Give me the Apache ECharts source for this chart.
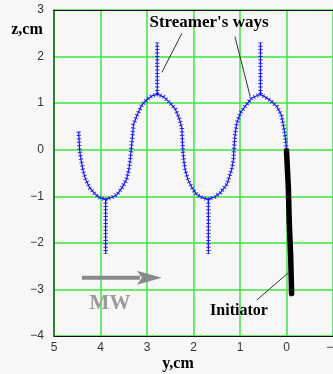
<!DOCTYPE html>
<html>
<head>
<meta charset="utf-8">
<script src="https://cdn.jsdelivr.net/npm/echarts@6/dist/echarts.min.js"></script>
<style>
  html, body { margin: 0; padding: 0; background: #f7f7f7; }
  #chart { width: 333px; height: 374px; }
</style>
</head>
<body>
<div id="chart"></div>
<script>
// streamer path (y, z in cm)
const curveY = [4.47, 4.45, 4.42, 4.37, 4.32, 4.23, 4.12, 4.00, 3.88, 3.75, 3.64, 3.54, 3.44, 3.39, 3.36, 3.34, 3.32, 3.29, 3.21, 3.11, 3.00, 2.89, 2.77,
  2.64, 2.51, 2.39, 2.31, 2.25, 2.24, 2.23, 2.21, 2.18, 2.12, 2.03, 1.93, 1.79, 1.68, 1.54, 1.42, 1.28, 1.22, 1.18, 1.14, 1.13, 1.11, 1.07, 0.99, 0.89, 0.75, 0.56,
  0.36, 0.21, 0.11, 0.05, 0.02, 0.00];
const curveZ = [0.39, 0.00, -0.21, -0.47, -0.64, -0.82, -0.95, -1.04, -1.06, -1.02, -0.96, -0.82, -0.64, -0.43, -0.21, 0.00, 0.21, 0.54, 0.75, 0.96, 1.08, 1.16, 1.19,
  1.13, 1.01, 0.87, 0.68, 0.47, 0.21, 0.00, -0.21, -0.43, -0.64, -0.82, -0.96, -1.04, -1.06, -1.01, -0.92, -0.74, -0.55, -0.43, -0.21, 0.00, 0.29, 0.57, 0.79, 0.93, 1.11, 1.19,
  1.07, 0.93, 0.75, 0.43, 0.21, 0.00];

// vertical streamer branches
const branchY = [3.89, 2.78, 1.68, 0.56];
const branchFrom = [-1.06, 1.19, -1.06, 1.19];
const branchTo = [-2.24, 2.30, -2.24, 2.30];

// initiator
const initY = [0.00, -0.04, -0.06, -0.09, -0.11];
const initZ = [-0.02, -0.82, -1.57, -2.29, -3.09];

const yTicks = [-1, 5];
const zTicks = [-4, 3];

const chart = echarts.init(document.getElementById("chart"));

const minus = (v) => String(v).replace("-", "\u2212");
const blue = "#1414f0";

const pathData = curveY.map((y, i) => [y, curveZ[i]]);

const ladder = (data, name) => [
  {
    name: name,
    type: "line",
    data: data,
    showSymbol: false,
    silent: true,
    lineStyle: { color: blue, width: 1.2 },
    z: 3,
  },
  {
    name: name + " marks",
    type: "line",
    data: data,
    showSymbol: false,
    silent: true,
    lineStyle: { color: blue, width: 4.5, type: [1, 2.4], cap: "butt", opacity: 0.85 },
    z: 3,
  },
];

const branchSeries = branchY.flatMap((y, i) =>
  ladder([[y, branchFrom[i]], [y, branchTo[i]]], "branch" + i)
);

const option = {
  backgroundColor: "#f7f7f7",
  animation: false,
  grid: { left: 54, right: 0, top: 10, bottom: 38, outerBoundsMode: "none" },
  xAxis: [
    {
      type: "value",
      inverse: true,
      min: yTicks[0],
      max: yTicks[1],
      interval: 1,
      axisLine: { onZero: false, lineStyle: { color: "#111", width: 1.2 } },
      axisTick: { show: false },
      axisLabel: {
        formatter: minus,
        color: "#333",
        fontFamily: "Liberation Sans",
        fontSize: 12,
        margin: 6,
      },
      splitLine: { lineStyle: { color: "#3fe43f", width: 1.5 } },
    },
    {
      type: "value",
      position: "top",
      inverse: true,
      min: yTicks[0],
      max: yTicks[1],
      axisLine: { show: true, onZero: false, lineStyle: { color: "#111", width: 1.2 } },
      axisTick: { show: false },
      axisLabel: { show: false },
      splitLine: { show: false },
    },
  ],
  yAxis: {
    type: "value",
    min: zTicks[0],
    max: zTicks[1],
    interval: 1,
    axisLine: { show: true, onZero: false, lineStyle: { color: "#1d5a1d", width: 1.5 } },
    axisTick: { show: false },
    axisLabel: {
      formatter: minus,
      color: "#333",
      fontFamily: "Liberation Sans",
      fontSize: 12,
      margin: 10,
    },
    splitLine: { lineStyle: { color: "#3fe43f", width: 1.5 } },
  },
  series: [
    ...ladder(pathData, "path"),
    ...branchSeries,
    {
      name: "initiator",
      type: "line",
      data: initY.map((y, i) => [y, initZ[i]]),
      showSymbol: false,
      silent: true,
      lineStyle: { color: "#000", width: 5.5, cap: "round" },
      z: 4,
    },
  ],
};

chart.setOption(option);

// annotations, given in data units and placed through the grid
const px = (p) => chart.convertToPixel({ gridIndex: 0 }, p);
const pointers = [
  [[2.25, 2.50], [2.68, 1.66]],
  [[1.11, 2.43], [0.78, 1.14]],
  [[-0.03, -2.65], [0.64, -3.23]],
];
const arrowTail = [4.40, -2.75];
const arrowHead = [2.68, -2.75];

const tail = px(arrowTail);
const head = px(arrowHead);
const serif = "Liberation Serif";

const graphics = pointers.map((p) => {
  const a = px(p[0]);
  const b = px(p[1]);
  return {
    type: "line",
    shape: { x1: a[0], y1: a[1], x2: b[0], y2: b[1] },
    style: { stroke: "#333", lineWidth: 1 },
    z: 10,
  };
});

graphics.push(
  {
    type: "line",
    shape: { x1: tail[0], y1: tail[1], x2: head[0] - 22, y2: head[1] },
    style: { stroke: "#8a8a8a", lineWidth: 4 },
    z: 10,
  },
  {
    type: "polygon",
    shape: {
      points: [
        [head[0], head[1]],
        [head[0] - 25, head[1] - 7],
        [head[0] - 20, head[1]],
        [head[0] - 25, head[1] + 7],
      ],
    },
    style: { fill: "#8a8a8a" },
    z: 10,
  },
  {
    type: "text",
    x: 209,
    y: 23,
    style: { text: "Streamer's ways", font: "bold 17px " + serif, fill: "#000", align: "center", verticalAlign: "middle" },
    z: 10,
  },
  {
    type: "text",
    x: 239,
    y: 311,
    style: { text: "Initiator", font: "bold 16px " + serif, fill: "#000", align: "center", verticalAlign: "middle" },
    z: 10,
  },
  {
    type: "text",
    x: 110,
    y: 304,
    style: { text: "MW", font: "bold 21px " + serif, fill: "#9a9a9a", align: "center", verticalAlign: "middle" },
    z: 10,
  },
  {
    type: "text",
    x: 27,
    y: 30,
    style: { text: "z,cm", font: "bold 16px " + serif, fill: "#000", align: "center", verticalAlign: "middle" },
    z: 10,
  },
  {
    type: "text",
    x: 178,
    y: 364,
    style: { text: "y,cm", font: "bold 16px " + serif, fill: "#000", align: "center", verticalAlign: "middle" },
    z: 10,
  }
);

chart.setOption({ graphic: graphics });
</script>
</body>
</html>
